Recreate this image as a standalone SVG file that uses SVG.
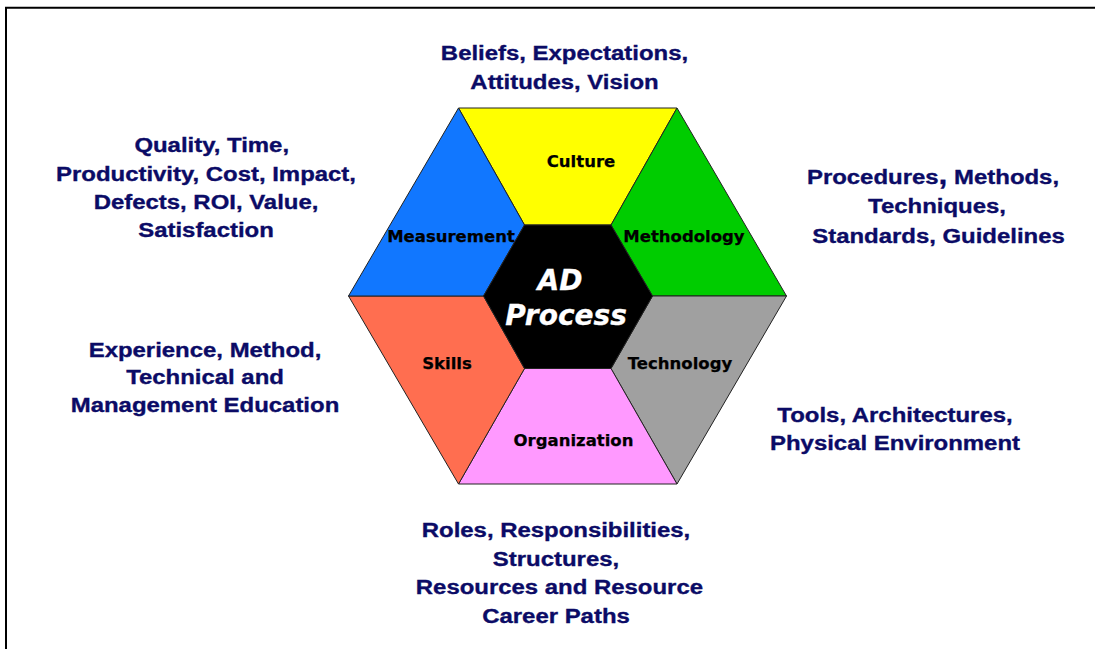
<svg xmlns="http://www.w3.org/2000/svg" width="1095" height="649" viewBox="0 0 1095 649">
<style>
.seg{stroke:#222;stroke-width:1;stroke-linejoin:round}
.lbl{font-family:"DejaVu Sans",Verdana,sans-serif;font-weight:bold;font-size:16.5px;fill:#000;stroke:#000;stroke-width:0.25;text-anchor:middle}
.ctr{font-family:"DejaVu Sans",Verdana,sans-serif;font-weight:bold;font-style:italic;font-size:28px;fill:#fff;stroke:#fff;stroke-width:0.3;text-anchor:middle}
.out{font-family:"Liberation Sans",Arial,sans-serif;font-weight:bold;font-size:21px;fill:#0b0b66;stroke:#0b0b66;stroke-width:0.35;text-anchor:middle}
</style>
<rect width="1095" height="649" fill="#fff"/>
<path d="M6,649 V7.7 H1095" fill="none" stroke="#000" stroke-width="2"/>
<g id="hexagon">
<g id="culture"><polygon class="seg" fill="#ffff00" points="458.5,108 677,108 611,225 524.5,225"/><text class="lbl" x="581" y="167">Culture</text></g>
<g id="methodology"><polygon class="seg" fill="#00cc00" points="677,108 786.5,296 652.5,296 611,225"/><text class="lbl" x="684" y="242">Methodology</text></g>
<g id="technology"><polygon class="seg" fill="#a0a0a0" points="786.5,296 677,484 611,368.5 652.5,296"/><text class="lbl" x="680" y="369">Technology</text></g>
<g id="organization"><polygon class="seg" fill="#ff99ff" points="677,484 458.5,484 524.5,368.5 611,368.5"/><text class="lbl" x="573.5" y="446">Organization</text></g>
<g id="skills"><polygon class="seg" fill="#ff6e50" points="458.5,484 348.5,296 483.5,296 524.5,368.5"/><text class="lbl" x="447" y="369">Skills</text></g>
<g id="measurement"><polygon class="seg" fill="#1177ff" points="348.5,296 458.5,108 524.5,225 483.5,296"/><text class="lbl" x="451" y="242">Measurement</text></g>
<g id="ad-process"><polygon class="seg" fill="#000" points="524.5,225 611,225 652.5,296 611,368.5 524.5,368.5 483.5,296"/><text class="ctr" x="560" y="290">AD</text><text class="ctr" x="566" y="325">Process</text></g>
</g>
<g id="connectors"></g>
<g id="culture-notes"><g transform="translate(564.5,0) scale(1.14,1)"><text class="out" x="0" y="60">Beliefs, Expectations,</text><text class="out" x="0" y="89">Attitudes, Vision</text></g></g>
<g id="measurement-notes"><g transform="translate(206,0) scale(1.14,1)"><text class="out" x="5" y="152">Quality, Time,</text><text class="out" x="0" y="181">Productivity, Cost, Impact,</text><text class="out" x="0" y="209">Defects, ROI, Value,</text><text class="out" x="0" y="237">Satisfaction</text></g></g>
<g id="methodology-notes"><g transform="translate(933,0) scale(1.14,1)"><text class="out" x="0" y="184">Procedures<tspan font-size="28">,</tspan> Methods,</text></g><g transform="translate(937,0) scale(1.14,1)"><text class="out" x="0" y="213">Techniques,</text></g><g transform="translate(938.5,0) scale(1.14,1)"><text class="out" x="0" y="243">Standards, Guidelines</text></g></g>
<g id="skills-notes"><g transform="translate(205,0) scale(1.14,1)"><text class="out" x="0" y="357">Experience, Method,</text><text class="out" x="0" y="384.5">Technical and</text><text class="out" x="0" y="412">Management Education</text></g></g>
<g id="technology-notes"><g transform="translate(895,0) scale(1.14,1)"><text class="out" x="0" y="422">Tools, Architectures,</text><text class="out" x="0" y="450">Physical Environment</text></g></g>
<g id="organization-notes"><g transform="translate(556,0) scale(1.14,1)"><text class="out" x="0" y="537">Roles, Responsibilities,</text><text class="out" x="0" y="566.5">Structures,</text><text class="out" x="3" y="594.5">Resources and Resource</text><text class="out" x="0" y="623">Career Paths</text></g></g>
</svg>
